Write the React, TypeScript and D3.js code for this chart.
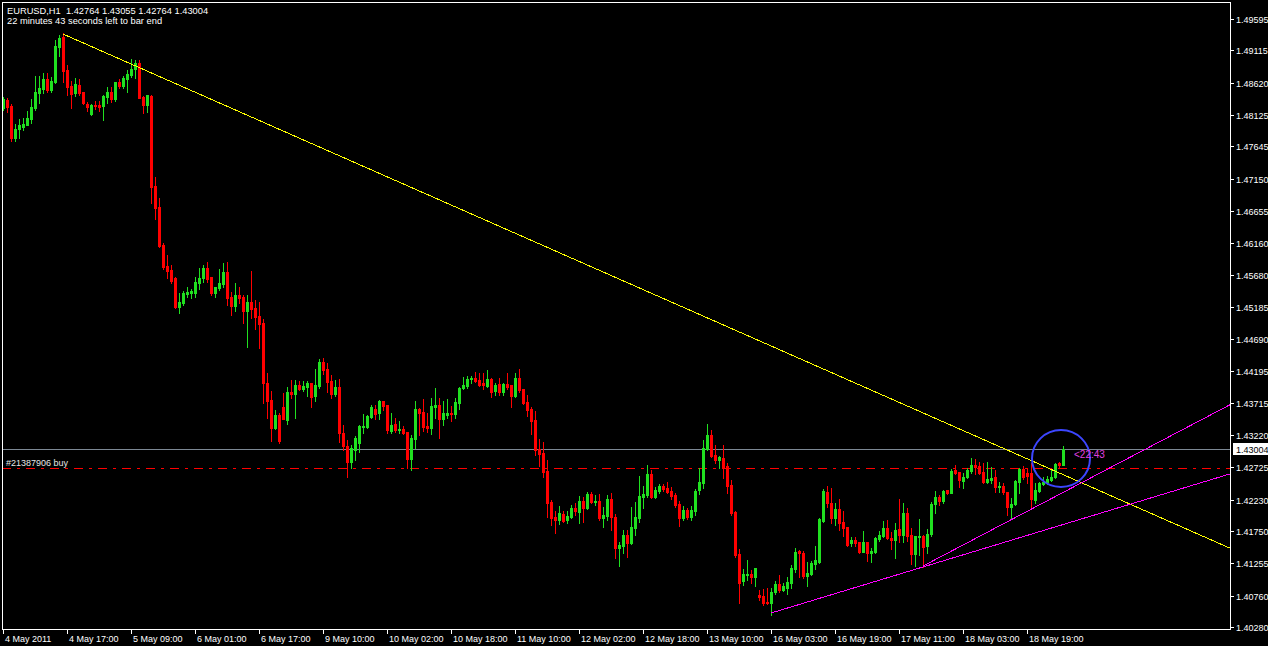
import React from "react";
import * as d3 from "d3";

const W = 1268;
const H = 646;

const headerLine1 = "EURUSD,H1  1.42764 1.43055 1.42764 1.43004";
const headerLine2 = "22 minutes 43 seconds left to bar end";

const opens = [
  1.4823,1.4835,1.4826,1.4777,1.4791,1.4794,1.4797,1.4806,1.4823,1.4846,
  1.4852,1.4868,1.4851,1.4863,1.4917,1.4932,1.4881,1.4857,1.4846,1.4858,
  1.4848,1.4829,1.4814,1.4828,1.4828,1.4826,1.4840,1.4848,1.4837,1.4863,
  1.4857,1.4868,1.4874,1.4883,1.4892,1.4840,1.4828,1.4842,1.4704,1.4671,
  1.4613,1.4581,1.4575,1.4563,1.4518,1.4524,1.4538,1.4540,1.4540,1.4555,
  1.4563,1.4578,1.4564,1.4540,1.4547,1.4553,1.4572,1.4534,1.4520,1.4537,
  1.4534,1.4512,1.4526,1.4517,1.4504,1.4494,1.4402,1.4376,1.4333,1.4353,
  1.4365,1.4345,1.4388,1.4385,1.4399,1.4393,1.4396,1.4402,1.4382,1.4397,
  1.4434,1.4423,1.4405,1.4385,1.4396,1.4325,1.4305,1.4281,1.4299,1.4310,
  1.4334,1.4334,1.4350,1.4362,1.4356,1.4374,1.4368,1.4328,1.4339,1.4330,
  1.4331,1.4327,1.4285,1.4316,1.4362,1.4357,1.4336,1.4333,1.4365,1.4368,
  1.4347,1.4353,1.4356,1.4354,1.4371,1.4394,1.4397,1.4408,1.4409,1.4406,
  1.4402,1.4397,1.4408,1.4390,1.4400,1.4388,1.4400,1.4399,1.4382,1.4409,
  1.4393,1.4373,1.4362,1.4345,1.4301,1.4295,1.4267,1.4220,1.4197,1.4192,
  1.4201,1.4192,1.4197,1.4210,1.4204,1.4221,1.4210,1.4232,1.4220,1.4221,
  1.4195,1.4198,1.4224,1.4197,1.4149,1.4152,1.4169,1.4157,1.4180,1.4195,
  1.4227,1.4230,1.4262,1.4227,1.4236,1.4244,1.4241,1.4236,1.4230,1.4216,
  1.4195,1.4207,1.4197,1.4206,1.4238,1.4249,1.4301,1.4322,1.4292,1.4284,
  1.4287,1.4275,1.4246,1.4204,1.4140,1.4098,1.4108,1.4109,1.4105,1.4077,
  1.4075,1.4066,1.4065,1.4082,1.4094,1.4085,1.4088,1.4095,1.4117,1.4144,
  1.4141,1.4106,1.4109,1.4125,1.4128,1.4190,1.4235,1.4218,1.4195,1.4209,
  1.4189,1.4181,1.4157,1.4161,1.4158,1.4143,1.4158,1.4141,1.4143,1.4163,
  1.4167,1.4180,1.4164,1.4161,1.4178,1.4169,1.4203,1.4169,1.4140,1.4166,
  1.4167,1.4152,1.4170,1.4216,1.4227,1.4221,1.4238,1.4233,1.4269,1.4265,
  1.4252,1.4258,1.4267,1.4276,1.4275,1.4265,1.4250,1.4253,1.4258,1.4242,
  1.4244,1.4235,1.4212,1.4216,1.4250,1.4270,1.4264,1.4264,1.4223,1.4236,
  1.4247,1.4250,1.4253,1.4258,1.4279,1.42764,
];

const highs = [
  1.4840,1.4838,1.4829,1.4799,1.4806,1.4808,1.4818,1.4837,1.4872,1.4872,
  1.4877,1.4877,1.4871,1.4927,1.4935,1.4938,1.4889,1.4865,1.4869,1.4868,
  1.4848,1.4832,1.4829,1.4834,1.4834,1.4843,1.4855,1.4855,1.4863,1.4868,
  1.4872,1.4881,1.4898,1.4897,1.4897,1.4842,1.4843,1.4843,1.4717,1.4685,
  1.4616,1.4598,1.4583,1.4564,1.4540,1.4543,1.4549,1.4546,1.4564,1.4578,
  1.4583,1.4587,1.4564,1.4549,1.4576,1.4586,1.4587,1.4541,1.4555,1.4549,
  1.4537,1.4537,1.4573,1.4529,1.4526,1.4500,1.4417,1.4390,1.4360,1.4356,
  1.4386,1.4396,1.4406,1.4406,1.4405,1.4405,1.4405,1.4402,1.4423,1.4439,
  1.4440,1.4432,1.4414,1.4406,1.4408,1.4337,1.4314,1.4307,1.4321,1.4337,
  1.4354,1.4353,1.4368,1.4368,1.4376,1.4374,1.4368,1.4356,1.4348,1.4344,
  1.4336,1.4327,1.4322,1.4374,1.4364,1.4377,1.4356,1.4379,1.4394,1.4379,
  1.4374,1.4377,1.4367,1.4379,1.4396,1.4411,1.4413,1.4413,1.4419,1.4417,
  1.4417,1.4422,1.4409,1.4402,1.4409,1.4402,1.4417,1.4399,1.4417,1.4423,
  1.4393,1.4383,1.4365,1.4359,1.4316,1.4311,1.4284,1.4223,1.4206,1.4213,
  1.4206,1.4206,1.4215,1.4218,1.4229,1.4227,1.4235,1.4235,1.4230,1.4232,
  1.4212,1.4230,1.4233,1.4201,1.4158,1.4177,1.4177,1.4212,1.4220,1.4259,
  1.4244,1.4276,1.4269,1.4242,1.4247,1.4247,1.4250,1.4242,1.4233,1.4221,
  1.4213,1.4210,1.4213,1.4239,1.4272,1.4314,1.4339,1.4330,1.4307,1.4290,
  1.4307,1.4279,1.4253,1.4206,1.4147,1.4117,1.4131,1.4115,1.4118,1.4085,
  1.4086,1.4088,1.4088,1.4098,1.4108,1.4095,1.4105,1.4123,1.4149,1.4146,
  1.4144,1.4128,1.4129,1.4152,1.4195,1.4239,1.4244,1.4241,1.4218,1.4224,
  1.4206,1.4181,1.4166,1.4166,1.4158,1.4175,1.4158,1.4149,1.4166,1.4175,
  1.4190,1.4192,1.4174,1.4187,1.4224,1.4218,1.4210,1.4180,1.4167,1.4193,
  1.4169,1.4178,1.4220,1.4236,1.4230,1.4238,1.4238,1.4270,1.4276,1.4265,
  1.4264,1.4272,1.4287,1.4285,1.4281,1.4279,1.4281,1.4273,1.4269,1.4250,
  1.4249,1.4235,1.4226,1.4253,1.4272,1.4275,1.4272,1.4279,1.4249,1.4250,
  1.4258,1.4259,1.4269,1.4279,1.4281,1.43055,
];

const lows = [
  1.4820,1.4817,1.4773,1.4773,1.4777,1.4789,1.4797,1.4800,1.4820,1.4831,
  1.4846,1.4848,1.4848,1.4861,1.4903,1.4863,1.4843,1.4823,1.4842,1.4843,
  1.4829,1.4818,1.4812,1.4822,1.4818,1.4805,1.4831,1.4832,1.4834,1.4854,
  1.4854,1.4848,1.4871,1.4869,1.4838,1.4815,1.4817,1.4678,1.4653,1.4610,
  1.4576,1.4563,1.4555,1.4517,1.4509,1.4521,1.4534,1.4532,1.4534,1.4546,
  1.4557,1.4557,1.4537,1.4534,1.4544,1.4549,1.4521,1.4506,1.4512,1.4524,
  1.4494,1.4457,1.4501,1.4485,1.4455,1.4371,1.4348,1.4313,1.4331,1.4310,
  1.4347,1.4339,1.4379,1.4348,1.4391,1.4390,1.4382,1.4365,1.4374,1.4394,
  1.4416,1.4388,1.4379,1.4382,1.4311,1.4299,1.4258,1.4272,1.4284,1.4296,
  1.4325,1.4333,1.4348,1.4347,1.4347,1.4360,1.4325,1.4325,1.4327,1.4325,
  1.4324,1.4272,1.4269,1.4302,1.4322,1.4328,1.4327,1.4324,1.4348,1.4318,
  1.4337,1.4348,1.4344,1.4348,1.4362,1.4393,1.4394,1.4402,1.4403,1.4397,
  1.4393,1.4396,1.4380,1.4383,1.4383,1.4383,1.4393,1.4365,1.4380,1.4388,
  1.4370,1.4351,1.4324,1.4292,1.4275,1.4258,1.4197,1.4184,1.4172,1.4186,
  1.4189,1.4187,1.4195,1.4200,1.4187,1.4189,1.4209,1.4218,1.4215,1.4192,
  1.4181,1.4192,1.4177,1.4134,1.4121,1.4141,1.4135,1.4155,1.4169,1.4189,
  1.4210,1.4227,1.4226,1.4226,1.4233,1.4236,1.4233,1.4224,1.4212,1.4183,
  1.4192,1.4193,1.4192,1.4200,1.4232,1.4241,1.4299,1.4288,1.4279,1.4272,
  1.4256,1.4233,1.4200,1.4135,1.4065,1.4092,1.4100,1.4095,1.4091,1.4069,
  1.4062,1.4063,1.4046,1.4079,1.4082,1.4083,1.4079,1.4088,1.4112,1.4105,
  1.4103,1.4091,1.4108,1.4117,1.4126,1.4189,1.4212,1.4187,1.4184,1.4177,
  1.4167,1.4152,1.4152,1.4152,1.4141,1.4143,1.4129,1.4128,1.4141,1.4160,
  1.4166,1.4163,1.4147,1.4134,1.4158,1.4158,1.4160,1.4125,1.4121,1.4138,
  1.4120,1.4141,1.4167,1.4203,1.4215,1.4218,1.4232,1.4233,1.4262,1.4242,
  1.4241,1.4256,1.4264,1.4262,1.4262,1.4249,1.4249,1.4249,1.4235,1.4235,
  1.4232,1.4200,1.4193,1.4215,1.4233,1.4255,1.4249,1.4212,1.4218,1.4235,
  1.4246,1.4247,1.4252,1.4256,1.4273,1.42764,
];

const closes = [
  1.4837,1.4825,1.4777,1.4791,1.4797,1.4799,1.4808,1.4825,1.4848,1.4854,
  1.4868,1.4851,1.4865,1.4918,1.4930,1.4880,1.4855,1.4845,1.4860,1.4846,
  1.4831,1.4825,1.4828,1.4826,1.4825,1.4842,1.4848,1.4837,1.4863,1.4857,
  1.4869,1.4875,1.4883,1.4892,1.4838,1.4828,1.4843,1.4702,1.4670,1.4612,
  1.4580,1.4573,1.4558,1.4518,1.4526,1.4540,1.4541,1.4543,1.4557,1.4563,
  1.4578,1.4561,1.4540,1.4549,1.4555,1.4572,1.4532,1.4520,1.4537,1.4532,
  1.4512,1.4526,1.4515,1.4503,1.4492,1.4402,1.4374,1.4333,1.4353,1.4313,
  1.4347,1.4388,1.4385,1.4399,1.4393,1.4397,1.4402,1.4380,1.4399,1.4434,
  1.4422,1.4403,1.4385,1.4396,1.4325,1.4305,1.4281,1.4302,1.4318,1.4336,
  1.4336,1.4351,1.4365,1.4354,1.4374,1.4367,1.4330,1.4337,1.4330,1.4331,
  1.4325,1.4285,1.4318,1.4362,1.4356,1.4334,1.4333,1.4367,1.4368,1.4347,
  1.4356,1.4356,1.4354,1.4373,1.4394,1.4399,1.4408,1.4409,1.4405,1.4399,
  1.4399,1.4408,1.4388,1.4399,1.4388,1.4400,1.4396,1.4382,1.4409,1.4391,
  1.4371,1.4360,1.4344,1.4299,1.4293,1.4265,1.4218,1.4195,1.4192,1.4203,
  1.4190,1.4198,1.4210,1.4206,1.4221,1.4210,1.4232,1.4220,1.4221,1.4195,
  1.4200,1.4224,1.4197,1.4149,1.4154,1.4169,1.4157,1.4181,1.4197,1.4229,
  1.4232,1.4262,1.4227,1.4238,1.4244,1.4239,1.4235,1.4229,1.4215,1.4195,
  1.4207,1.4197,1.4207,1.4236,1.4250,1.4302,1.4322,1.4290,1.4284,1.4288,
  1.4273,1.4244,1.4203,1.4138,1.4095,1.4109,1.4109,1.4105,1.4118,1.4074,
  1.4065,1.4065,1.4082,1.4094,1.4085,1.4091,1.4097,1.4118,1.4143,1.4141,
  1.4106,1.4111,1.4126,1.4131,1.4193,1.4236,1.4218,1.4195,1.4209,1.4187,
  1.4180,1.4154,1.4161,1.4157,1.4143,1.4158,1.4141,1.4144,1.4164,1.4169,
  1.4180,1.4164,1.4161,1.4177,1.4169,1.4203,1.4167,1.4140,1.4167,1.4167,
  1.4151,1.4170,1.4216,1.4227,1.4221,1.4236,1.4233,1.4267,1.4264,1.4253,
  1.4258,1.4269,1.4276,1.4273,1.4264,1.4250,1.4255,1.4256,1.4242,1.4244,
  1.4235,1.4212,1.4216,1.4252,1.4270,1.4258,1.4259,1.4224,1.4238,1.4249,
  1.4250,1.4255,1.4258,1.4278,1.4276,1.43004,
];

const timeTickBars = [0, 16, 32, 48, 64, 80, 96, 112, 128, 144, 160, 176, 192, 208, 224, 240, 256];
const timeTickLabels = [
  "4 May 2011", "4 May 17:00", "5 May 09:00", "6 May 01:00", "6 May 17:00",
  "9 May 10:00", "10 May 02:00", "10 May 18:00", "11 May 10:00", "12 May 02:00",
  "12 May 18:00", "13 May 10:00", "16 May 03:00", "16 May 19:00", "17 May 11:00",
  "18 May 03:00", "18 May 19:00",
];

const priceTicks = [
  1.49595, 1.49115, 1.4862, 1.48125, 1.47645, 1.4715, 1.46655, 1.4616, 1.4568, 1.45185,
  1.4469, 1.44195, 1.43715, 1.4322, 1.42725, 1.4223, 1.4175, 1.41255, 1.4076, 1.4028,
];

const bidPrice = 1.43004;
const orderPrice = 1.4272;
const orderLabel = "#21387906 buy";
const timeLeftLabel = "<22:43";

// trend lines: [bar index, price] anchors (rays to the right)
const yellowTrend = [[15, 1.49365], [250, 1.4302]];
const magentaTrendA = [[192, 1.40494], [260, 1.41757]];
const magentaTrendB = [[230, 1.41214], [260, 1.4218]];
// ellipse: bar range and price range
const ellipseBars = [257.25, 271.75];
const ellipsePrices = [1.43298, 1.42425];

const FONT = "'Liberation Sans', Arial, sans-serif";

export default function App() {
  const left = 2, right = 1230, top = 2, bottom = 629;
  const x = d3.scaleLinear().domain([0, 265]).range([3, 1063]);
  const y = d3.scaleLinear().domain([1.4028, 1.49595]).range([627, 19]);
  const ry = (v: number) => Math.round(y(v));

  const rayPath = (anchors: number[][]) => {
    const [a, b] = anchors;
    const endBar = x.invert(right + 2);
    const slope = (b[1] - a[1]) / (b[0] - a[0]);
    const endPrice = a[1] + slope * (endBar - a[0]);
    const line = d3.line<number[]>().x((d) => x(d[0])).y((d) => y(d[1]));
    return line([[a[0], a[1]], [endBar, endPrice]]) || "";
  };

  const green = "#20e020";
  const red = "#ff0000";

  const candles = opens.map((o, i) => {
    const c = closes[i];
    const cx = Math.round(x(i));
    const yo = ry(o), yc = ry(c);
    const yh = ry(highs[i]), yl = ry(lows[i]);
    const col = c >= o ? green : red;
    const bt = Math.min(yo, yc);
    const bh = Math.abs(yo - yc) + 1;
    return (
      <g key={i} fill={col}>
        <rect x={cx} y={yh} width={1} height={yl - yh + 1} />
        <rect x={cx - 1} y={bt} width={3} height={bh} />
      </g>
    );
  });

  const ex0 = x(ellipseBars[0]), ex1 = x(ellipseBars[1]);
  const ey0 = y(ellipsePrices[0]), ey1 = y(ellipsePrices[1]);
  const bidY = ry(bidPrice) + 0.5;
  const orderY = ry(orderPrice) + 0.5;
  const lastX = x(opens.length - 1);

  return (
    <div style={{ position: "absolute", left: 0, top: 0, width: W, height: H }}>
      <svg width={W} height={H} style={{ display: "block" }} fontFamily={FONT}>
        <defs>
          <clipPath id="plot">
            <rect x={left + 1} y={top + 1} width={right - left - 1} height={bottom - top - 1} />
          </clipPath>
        </defs>
        <rect x={0} y={0} width={W} height={H} fill="#000" />

        {/* horizontal lines */}
        <line x1={left} x2={right} y1={bidY} y2={bidY} stroke="#7c8894" strokeWidth={1} shapeRendering="crispEdges" />
        <line x1={left} x2={right} y1={orderY} y2={orderY} stroke="#ff0000" strokeWidth={1}
          strokeDasharray="9,6,3,6" shapeRendering="crispEdges" />
        <text x={6} y={orderY - 3} fontSize={9} fill="#e6e6e6">{orderLabel}</text>

        {/* candles */}
        <g shapeRendering="crispEdges">{candles}</g>

        {/* trend lines */}
        <g clipPath="url(#plot)" fill="none" strokeWidth={1} shapeRendering="crispEdges">
          <path d={rayPath(yellowTrend)} stroke="#ffff00" />
          <path d={rayPath(magentaTrendA)} stroke="#ff00ff" />
          <path d={rayPath(magentaTrendB)} stroke="#ff00ff" />
        </g>

        {/* ellipse */}
        <ellipse cx={(ex0 + ex1) / 2} cy={(ey0 + ey1) / 2} rx={(ex1 - ex0) / 2} ry={(ey1 - ey0) / 2}
          fill="none" stroke="#3c46ff" strokeWidth={2} />

        <text x={lastX + 11} y={bidY + 8} fontSize={10} fill="#e040e0">{timeLeftLabel}</text>

        {/* frame */}
        <g stroke="#fff" strokeWidth={1} shapeRendering="crispEdges">
          <line x1={left + 0.5} x2={left + 0.5} y1={top} y2={bottom + 1} />
          <line x1={left} x2={right + 1} y1={top + 0.5} y2={top + 0.5} />
          <line x1={right + 0.5} x2={right + 0.5} y1={top} y2={bottom + 1} />
          <line x1={left} x2={right + 1} y1={bottom + 0.5} y2={bottom + 0.5} />
        </g>

        {/* price axis */}
        {priceTicks.map((v) => {
          const ty = ry(v) + 0.5;
          return (
            <g key={v}>
              <line x1={right + 1} x2={right + 4} y1={ty} y2={ty} stroke="#fff" shapeRendering="crispEdges" />
              <text x={right + 6} y={ty + 3.5} fontSize={9} fill="#fff">{v.toFixed(5)}</text>
            </g>
          );
        })}
        <rect x={right + 3} y={bidY - 6.5} width={W - right - 3} height={12} fill="#fff" />
        <text x={right + 6} y={bidY + 3.5} fontSize={9} fill="#000">{bidPrice.toFixed(5)}</text>

        {/* time axis */}
        {timeTickBars.map((b, k) => {
          const tx = Math.round(x(b)) + 0.5;
          return (
            <g key={b}>
              <line x1={tx} x2={tx} y1={bottom + 1} y2={bottom + 5} stroke="#fff" shapeRendering="crispEdges" />
              <text x={tx + 1.5} y={bottom + 13} fontSize={9} fill="#fff">{timeTickLabels[k]}</text>
            </g>
          );
        })}

        {/* header */}
        <text x={7} y={14} fontSize={9.3} fill="#fff" xmlSpace="preserve" style={{ whiteSpace: "pre" }}>{headerLine1}</text>
        <text x={7} y={24} fontSize={9.3} fill="#fff">{headerLine2}</text>
      </svg>
    </div>
  );
}
